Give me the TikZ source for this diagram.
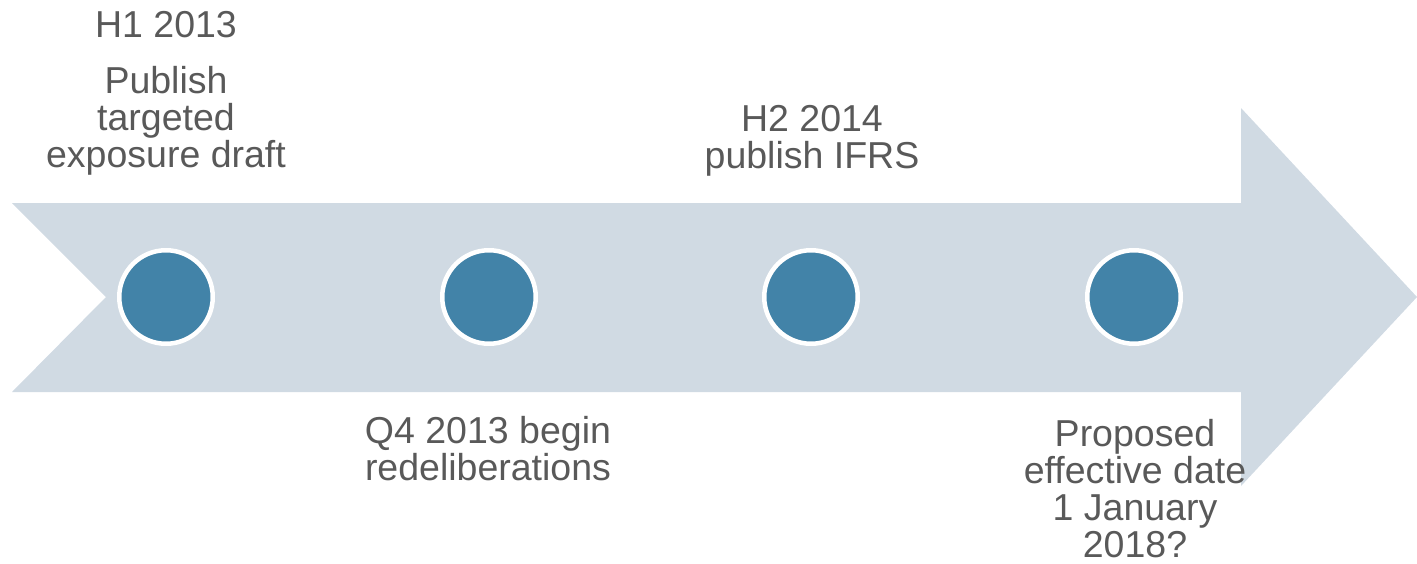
\documentclass[tikz,border=0pt]{standalone}
\usepackage{fontspec}
\setmainfont{Liberation Sans}
\definecolor{bandfill}{HTML}{D0DAE3}
\definecolor{dotfill}{HTML}{4283A8}
\definecolor{labeltext}{HTML}{595959}
\begin{document}
\begin{tikzpicture}[x=1pt,y=-1pt,
  milestone/.style={circle,fill=dotfill,draw=white,line width=4.5pt,
    minimum size=93.5pt,inner sep=0pt},
  caption/.style={anchor=base,align=center,inner sep=0pt,text=labeltext,
    font=\fontsize{37.5pt}{37pt}\selectfont}]
\useasboundingbox (0,0) rectangle (1417,563);
% timeline band with notched tail and arrow head
\fill[bandfill] (12,203) -- (1241,203) -- (1241,108) -- (1417,297)
  -- (1241,486) -- (1241,392) -- (12,392) -- (106,297) -- cycle;
% milestones
\node[milestone] (m1) at (166,297) {};
\node[milestone] (m2) at (489,297) {};
\node[milestone] (m3) at (811,297) {};
\node[milestone] (m4) at (1134,297) {};
% labels (anchored at the baseline of their last line)
\node[caption] (t1a) at (166,37) {H1 2013};
\node[caption] (t1b) at (166,167) {Publish\\targeted\\exposure draft};
\node[caption] (t3) at (812,168) {H2 2014\\publish IFRS};
\node[caption] (t2) at (488,480) {Q4 2013 begin\\redeliberations};
\node[caption] (t4) at (1135,557) {Proposed\\effective date\\1 January\\2018?};
\end{tikzpicture}
\end{document}
